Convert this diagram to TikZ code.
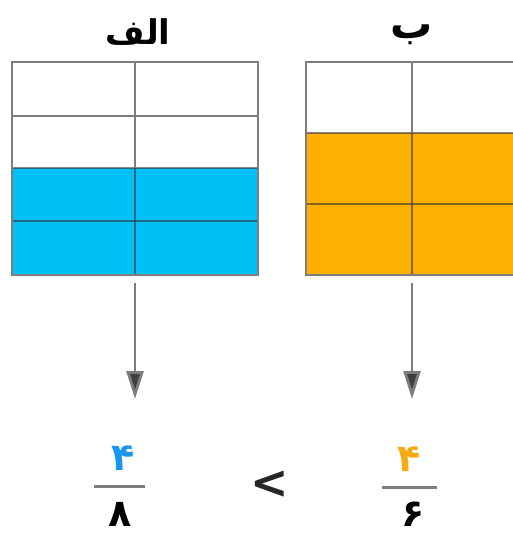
\documentclass[tikz,border=0pt]{standalone}
\usepackage{fontspec}
\TeXXeTstate=1
\newfontfamily\arabicfont[Script=Arabic]{DejaVu Sans}
\newfontfamily\symfont{DejaVu Sans}
\usetikzlibrary{arrows.meta}
\definecolor{cblue}{RGB}{0,192,245}
\definecolor{corange}{RGB}{253,176,0}
\definecolor{gline}{RGB}{125,125,125}
\definecolor{numblue}{RGB}{25,150,240}
\definecolor{numorange}{RGB}{248,170,20}
\tikzset{
  gridline/.style={draw=gline, line width=2.4pt},
  innerline/.style={draw=black!80, opacity=0.6, line width=2.4pt},
  gridbox/.style={draw=gline, line width=2.4pt, minimum height=213pt, inner sep=0pt},
  arr/.style={draw=gline, line width=2.8pt, -{Triangle[length=28pt,width=17pt,fill=black!75]}},
  title/.style={font=\arabicfont\bfseries\fontsize{34}{40}\selectfont, inner sep=0pt, anchor=base},
  digit/.style={font=\arabicfont\bfseries\fontsize{38}{40}\selectfont, inner sep=0pt},
  fbar/.style={draw=gline, line width=3pt},
}
\begin{document}
\begin{tikzpicture}[x=1pt,y=-1pt]
\useasboundingbox (0,0) rectangle (513,535);
\clip (0,0) rectangle (513,535);
% --- grid A (left) ---
\fill[cblue] (12,168) rectangle (258,275);
\draw[innerline] (12,221) -- (258,221);
\draw[innerline] (12,168) -- (258,168);
\draw[innerline] (135,168) -- (135,275);
\draw[gridline] (12,116) -- (258,116);
\draw[gridline] (135,62) -- (135,168);
\node[gridbox, minimum width=246pt] (A) at (135,168.5) {};
% --- grid B (right) ---
\fill[corange] (306,133) rectangle (520,275);
\draw[innerline] (306,204) -- (520,204);
\draw[innerline] (306,133) -- (520,133);
\draw[innerline] (412,133) -- (412,275);
\draw[gridline] (412,62) -- (412,133);
\node[gridbox, minimum width=214pt] (B) at (413,168.5) {};
% --- titles ---
\node[title] (tA) at (138,45) {\beginR الف\endR};
\node[title, font=\arabicfont\bfseries\fontsize{42}{44}\selectfont] (tB) at (412,38) {ب};
% --- fractions ---
\node[digit, text=numblue] (nA) at (123,458) {۴};
\node[digit] (dA) at (120,514) {۸};
\coordinate (bA1) at (94,486);
\coordinate (bA2) at (145,486);
\draw[fbar] (bA1) -- (bA2);
\node[digit, text=numorange] (nB) at (409,459) {۴};
\node[digit] (dB) at (413,514) {۶};
\coordinate (bB1) at (382,487);
\coordinate (bB2) at (437,487);
\draw[fbar] (bB1) -- (bB2);
\node[font=\symfont\bfseries\fontsize{46}{46}\selectfont, inner sep=0pt, text=black!85] (lt) at (270,485) {<};
% --- arrows ---
\coordinate (eA) at (135,399);
\coordinate (eB) at (412,399);
\draw[arr] ([yshift=-7pt]A.south) -- (eA);
\draw[arr] ([yshift=-7pt]B.south -| eB) -- (eB);
\end{tikzpicture}
\end{document}
